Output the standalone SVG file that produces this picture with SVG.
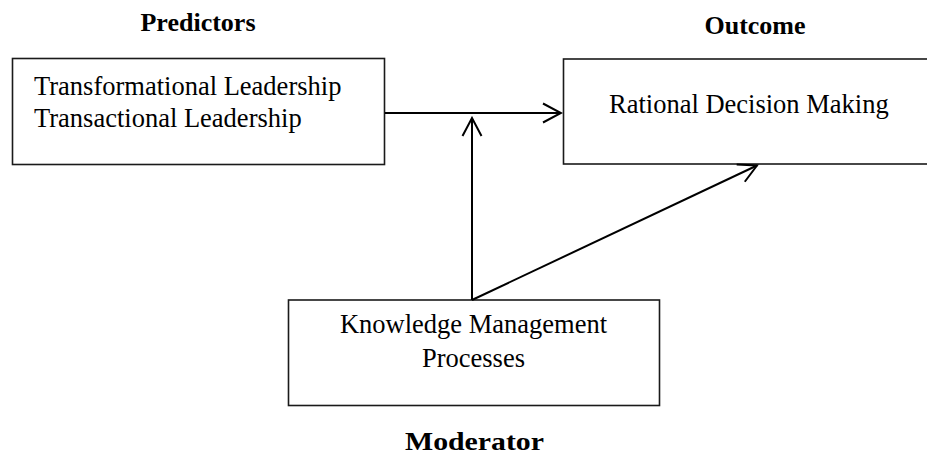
<svg xmlns="http://www.w3.org/2000/svg" width="927" height="457" viewBox="0 0 927 457">
<style>
.box{fill:#fff;stroke:#1a1a1a;stroke-width:1.6}
.t{font-family:"Liberation Serif","Times New Roman",serif;font-size:26.5px;fill:#000}
.h{font-family:"Liberation Serif","Times New Roman",serif;font-size:26px;font-weight:bold;fill:#000}
.c{fill:none;stroke:#000;stroke-width:2}
</style>
<defs>
<marker id="ah" viewBox="-20 -12 22 24" refX="0" refY="0" markerWidth="22" markerHeight="24" markerUnits="userSpaceOnUse" orient="auto">
<path d="M-18,-9.5 L0,0 L-18,9.5" fill="none" stroke="#000" stroke-width="2"/>
</marker>
</defs>
<text class="h" x="198" y="31" text-anchor="middle">Predictors</text>
<text class="h" x="755" y="34" text-anchor="middle">Outcome</text>
<text class="h" x="474.5" y="450" text-anchor="middle" font-size="28" textLength="139" lengthAdjust="spacingAndGlyphs">Moderator</text>
<g id="predictors">
<rect class="box" x="12.5" y="58.5" width="372" height="106"/>
<text class="t" x="34" y="95">Transformational Leadership</text>
<text class="t" x="34" y="127">Transactional Leadership</text>
</g>
<g id="outcome">
<rect class="box" x="563.5" y="59" width="420" height="105"/>
<text class="t" x="609" y="112.5">Rational Decision Making</text>
</g>
<g id="moderator">
<rect class="box" x="288.5" y="300" width="371" height="105.5"/>
<text class="t" x="473.5" y="333.3" text-anchor="middle">Knowledge Management</text>
<text class="t" x="473.5" y="367" text-anchor="middle">Processes</text>
</g>
<g id="connectors">
<line class="c" x1="385" y1="113" x2="561" y2="113" marker-end="url(#ah)"/>
<line class="c" x1="472" y1="300" x2="472" y2="118" marker-end="url(#ah)"/>
<line class="c" x1="472" y1="300" x2="757" y2="165.5" marker-end="url(#ah)"/>
</g>
</svg>
